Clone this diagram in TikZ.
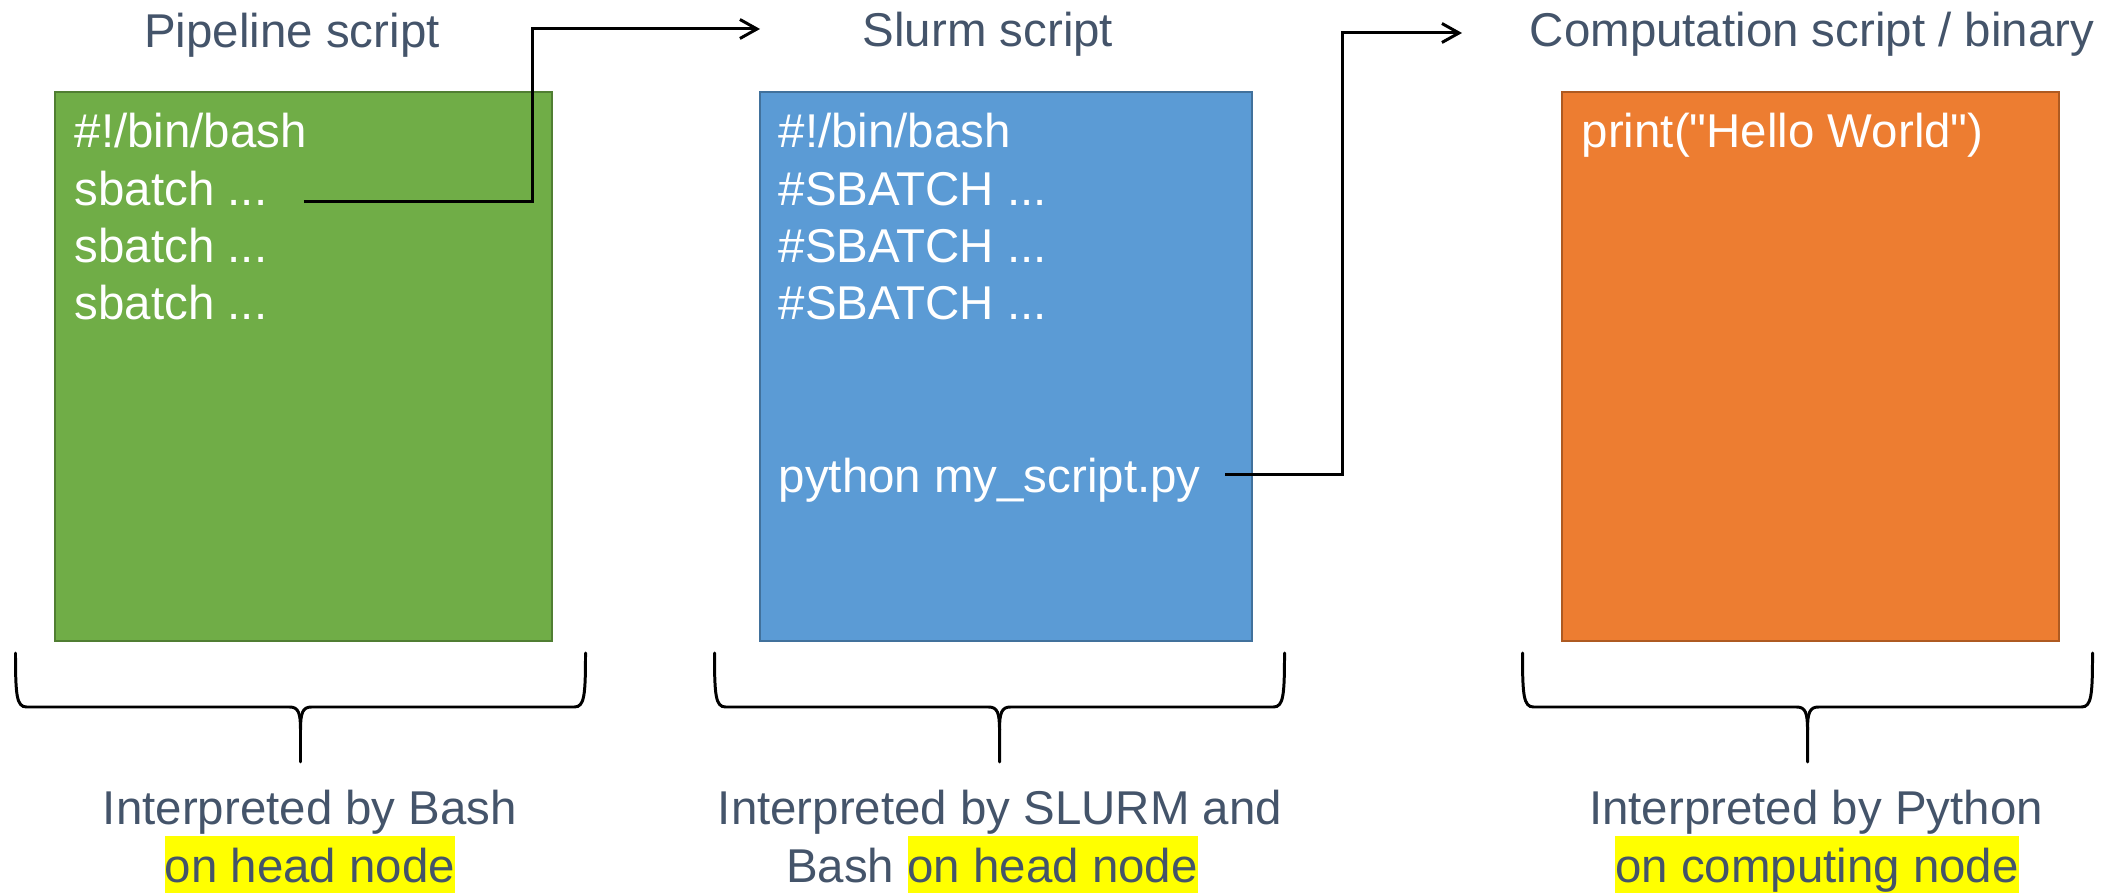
\documentclass[tikz,border=0pt]{standalone}
\usepackage{fontspec}
\setmainfont{Liberation Sans}[Ligatures=TeXOff]
\usetikzlibrary{arrows.meta}

\definecolor{slate}{HTML}{44546A}
\definecolor{pipegreen}{HTML}{70AD47}
\definecolor{pipegreenline}{HTML}{507E32}
\definecolor{slurmblue}{HTML}{5B9BD5}
\definecolor{slurmblueline}{HTML}{41719C}
\definecolor{comporange}{HTML}{ED7D31}
\definecolor{comporangeline}{HTML}{AE5A21}
\definecolor{hlyellow}{HTML}{FFFF00}

\newcommand{\hilite}[1]{{\setlength{\fboxsep}{0pt}\colorbox{hlyellow}{\rule[-0.11cm]{0pt}{0.57cm}#1}}}

\begin{document}
\begin{tikzpicture}[>={Straight Barb[length=1.7mm,width=1.9mm]},font=\fontsize{13.5}{16.3}\selectfont,
heading/.style={text=slate,anchor=base,inner sep=0pt},
codeline/.style={text=white,anchor=base west,inner sep=0pt},
note/.style={text=slate,anchor=base,inner sep=0pt},
scriptbox/.style={draw,line width=0.6pt,minimum height=5.49cm,anchor=north west,inner sep=0pt},
link/.style={->,line width=0.85pt},
bracket/.style={line width=0.85pt,line cap=round}]
                      \useasboundingbox (0,0) rectangle (21.25,-8.93);

                      \node[scriptbox,fill=pipegreen,draw=pipegreenline,minimum width=4.97cm] (pipe) at (0.54,-0.91) {};
                      \node[scriptbox,fill=slurmblue,draw=slurmblueline,minimum width=4.92cm] (slurm) at (7.59,-0.91) {};
                      \node[scriptbox,fill=comporange,draw=comporangeline,minimum width=4.97cm] (comp) at (15.61,-0.91) {};

                      \node[heading] (pipetitle) at (2.92,-0.48) {Pipeline script};
                      \node[heading] (slurmtitle) at (9.88,-0.47) {Slurm script};
                      \node[heading] (comptitle) at (18.12,-0.47) {Computation script / binary};

                      \node[codeline] (pipe1) at (0.74,-1.48) {\#!/bin/bash};
                      \node[codeline] (pipe2) at (0.74,-2.053) {sbatch ...};
                      \node[codeline] (pipe3) at (0.74,-2.626) {sbatch ...};
                      \node[codeline] (pipe4) at (0.74,-3.20) {sbatch ...};

                      \node[codeline] (slurm1) at (7.78,-1.48) {\#!/bin/bash};
                      \node[codeline] (slurm2) at (7.78,-2.053) {\#SBATCH ...};
                      \node[codeline] (slurm3) at (7.78,-2.626) {\#SBATCH ...};
                      \node[codeline] (slurm4) at (7.78,-3.20) {\#SBATCH ...};
                      \node[codeline] (slurm5) at (7.78,-4.93) {python my\_script.py};

                      \node[codeline] (comp1) at (15.81,-1.48) {print("Hello World")};

                      \coordinate (slurmin) at (7.60,-0.29);
                      \coordinate (compin) at (14.62,-0.33);
                      \draw[link] ([xshift=0.36cm,yshift=0.04cm]pipe2.base east) -- ++(2.29,0) |- (slurmin);
                      \draw[link] ([xshift=0.24cm,yshift=0.18cm]slurm5.base east) -- ++(1.17,0) |- (compin);

                      \foreach \c in {3.005,9.995,18.075}{
                        \draw[bracket] ({\c-2.85},-6.53) .. controls ({\c-2.85},-6.95) and ({\c-2.84},-7.07) .. ({\c-2.74},-7.07) -- ({\c-0.11},-7.07) .. controls ({\c-0.02},-7.07) and (\c,-7.13) .. (\c,-7.30) -- (\c,-7.62);
                        \draw[bracket] ({\c+2.85},-6.53) .. controls ({\c+2.85},-6.95) and ({\c+2.84},-7.07) .. ({\c+2.74},-7.07) -- ({\c+0.11},-7.07) .. controls ({\c+0.02},-7.07) and (\c,-7.13) .. (\c,-7.30);
                      }

                      \node[note] (bash1) at (3.10,-8.25) {Interpreted by Bash};
                      \node[note] (bash2) at (3.10,-8.82) {\hilite{on head node}};
                      \node[note] (slurmnote1) at (10.00,-8.25) {Interpreted by SLURM and};
                      \node[note] (slurmnote2) at (9.92,-8.82) {Bash \hilite{on head node}};
                      \node[note] (pynote1) at (18.16,-8.25) {Interpreted by Python};
                      \node[note] (pynote2) at (18.17,-8.82) {\hilite{on computing node}};
                    \end{tikzpicture}
\end{document}
